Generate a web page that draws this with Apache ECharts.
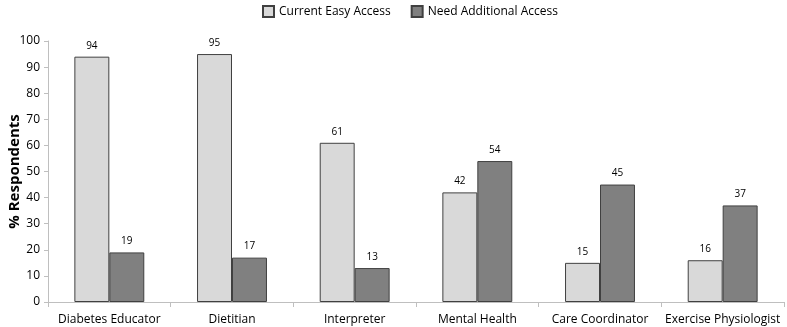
<!DOCTYPE html>
<html>
<head>
<meta charset="utf-8">
<script src="https://cdn.jsdelivr.net/npm/echarts@6/dist/echarts.min.js"></script>
<style>
  html, body { margin: 0; padding: 0; background: #fff; }
  #chart { width: 787px; height: 327px; }
</style>
</head>
<body>
<div id="chart"></div>
<script>
var categories = ['Diabetes Educator', 'Dietitian', 'Interpreter', 'Mental Health', 'Care Coordinator', 'Exercise Physiologist'];
var easyAccess = [94, 95, 61, 42, 15, 16];
var needAccess = [19, 17, 13, 54, 45, 37];
var seriesNames = ['Current Easy Access', 'Need Additional Access'];

var font = '"Open Sans", "Noto Sans", sans-serif';

var chart = echarts.init(document.getElementById('chart'));

var option = {
	animation: false,
	textStyle: { fontFamily: font },
	legend: {
		data: seriesNames,
		top: 0,
		left: 257,
		icon: 'rect',
		itemWidth: 11,
		itemHeight: 11,
		itemGap: 20,
		textStyle: { fontSize: 12, color: '#000', fontFamily: font }
	},
	grid: {
		left: 48,
		right: 3,
		top: 41,
		bottom: 25,
		containLabel: false,
		outerBoundsMode: 'none'
	},
	xAxis: {
		type: 'category',
		data: categories,
		axisLine: { lineStyle: { color: '#bfbfbf', width: 1 } },
		axisTick: { show: true, alignWithLabel: false, length: 5, lineStyle: { color: '#bfbfbf' } },
		axisLabel: { color: '#000', fontSize: 12, margin: 12, interval: 0, fontFamily: font }
	},
	yAxis: {
		type: 'value',
		min: 0,
		max: 100,
		interval: 10,
		name: '% Respondents',
		nameLocation: 'middle',
		nameGap: 26,
		nameMoveOverlap: false,
		nameTextStyle: { fontSize: 15, fontWeight: 'bold', color: '#000', fontFamily: font },
		axisLine: { show: true, lineStyle: { color: '#bfbfbf', width: 1 } },
		axisTick: { show: true, length: 4, lineStyle: { color: '#bfbfbf' } },
		axisLabel: { color: '#000', fontSize: 12, margin: 8, fontFamily: font },
		splitLine: { show: false }
	},
	series: [{
		name: seriesNames[0],
		type: 'bar',
		data: easyAccess,
		barGap: '0%',
		barCategoryGap: '43%',
		itemStyle: { color: '#d9d9d9', borderColor: '#404040', borderWidth: 1 },
		label: { show: true, position: 'top', distance: 6, fontSize: 10, color: '#000', fontFamily: font }
	}, {
		name: seriesNames[1],
		type: 'bar',
		data: needAccess,
		itemStyle: { color: '#808080', borderColor: '#404040', borderWidth: 1 },
		label: { show: true, position: 'top', distance: 6, fontSize: 10, color: '#000', fontFamily: font }
	}]
};

chart.setOption(option);
</script>
</body>
</html>
